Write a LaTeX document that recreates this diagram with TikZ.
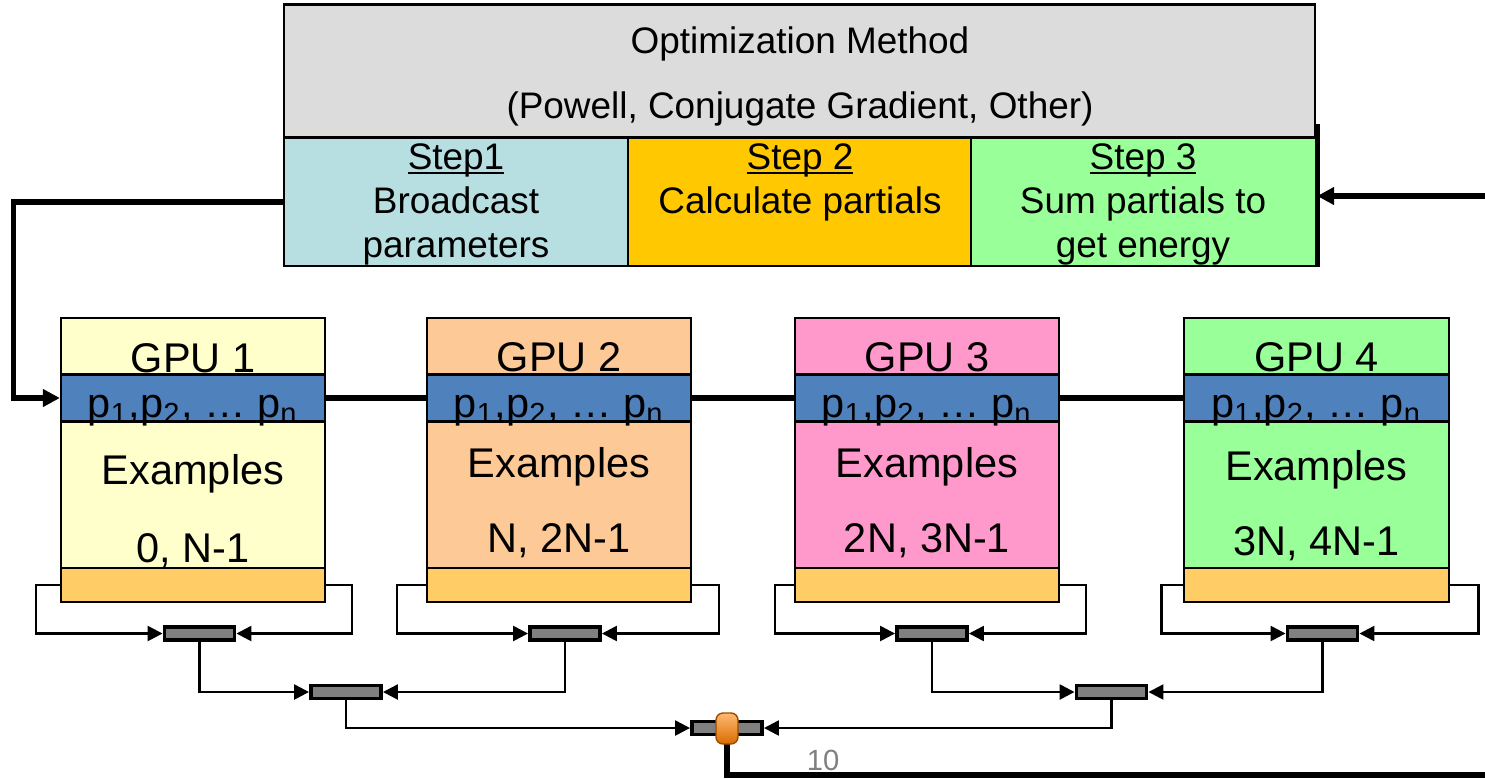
\documentclass[tikz,border=0pt]{standalone}
\usepackage{fontspec}
\setmainfont{Liberation Sans}
\usetikzlibrary{arrows.meta}

\definecolor{optgray}{HTML}{DCDCDC}
\definecolor{stepcyan}{HTML}{B7DEE0}
\definecolor{stepgold}{HTML}{FFC800}
\definecolor{stepgreen}{HTML}{99FF99}
\definecolor{gpuyellow}{HTML}{FFFFCC}
\definecolor{gpupeach}{HTML}{FDC997}
\definecolor{gpupink}{HTML}{FF99CC}
\definecolor{gpugreen}{HTML}{99FF99}
\definecolor{pblue}{HTML}{4F81BD}
\definecolor{sumorange}{HTML}{FFCC66}
\definecolor{bargray}{HTML}{808080}

\newcommand{\ulstep}[1]{\setbox0\hbox{#1}\rlap{\rule[-1.2pt]{\wd0}{0.6pt}}\box0}

\tikzset{
  box/.style={draw=black, line width=0.6pt, inner sep=0pt},
  gpubox/.style={box, minimum width=2.64cm, minimum height=2.84cm},
  pband/.style={box, fill=pblue, minimum width=2.64cm, minimum height=0.47cm,
    text height=0.43cm, text depth=0.04cm, font=\fontsize{11.8}{14}\selectfont},
  sband/.style={box, fill=sumorange, minimum width=2.64cm, minimum height=0.34cm},
  gtext/.style={font=\fontsize{11.8}{14}\selectfont, inner sep=0pt, anchor=base},
  stext/.style={font=\fontsize{10.5}{12.4}\selectfont, align=center, inner sep=0pt, anchor=base},
  addbar/.style={draw=black, fill=bargray, line width=1.1pt, minimum width=0.70cm,
    minimum height=0.13cm, inner sep=0pt},
  bus/.style={line width=1.5pt},
  busarrow/.style={bus, -{Triangle[length=0.17cm, width=0.17cm]}},
  wire/.style={line width=0.7pt, -{Triangle[length=0.15cm, width=0.15cm]}},
}

\begin{document}
\begin{tikzpicture}[x=0.01cm, y=-0.01cm]
  \useasboundingbox (0,0) rectangle (1485,778);

  \node[box, fill=optgray, minimum width=10.31cm, minimum height=1.33cm] (opt) at (799.5,71) {};
  \node[stext] (optname) at (800,53) {Optimization Method};
  \node[stext] (optlist) at (800,118) {(Powell, Conjugate Gradient, Other)};

  \node[box, fill=stepcyan, minimum width=3.44cm, minimum height=1.28cm] (s1) at (456,202) {};
  \node[box, fill=stepgold, minimum width=3.43cm, minimum height=1.28cm] (s2) at (799.5,202) {};
  \node[box, fill=stepgreen, minimum width=3.45cm, minimum height=1.28cm] (s3) at (1143.5,202) {};
  \draw[bus] (s3.south east) -- ++(0,-143);
  \node[stext] (s1text) at (456,257) {\ulstep{Step1}\\Broadcast\\parameters};
  \node[stext] (s2text) at (800,213) {\ulstep{Step 2}\\Calculate partials};
  \node[stext] (s3text) at (1143,257) {\ulstep{Step 3}\\Sum partials to\\get energy};

  \node[gpubox, fill=gpuyellow] (gpu1) at (193,460) {};
  \node[gpubox, fill=gpupeach] (gpu2) at (559,460) {};
  \node[gpubox, fill=gpupink] (gpu3) at (927,460) {};
  \node[gpubox, fill=gpugreen] (gpu4) at (1316.5,460) {};

  \node[pband] (p1) at (193,398) {p\textsubscript{1},p\textsubscript{2}, \dots\ p\textsubscript{n}};
  \node[pband] (p2) at (559,398) {p\textsubscript{1},p\textsubscript{2}, \dots\ p\textsubscript{n}};
  \node[pband] (p3) at (927,398) {p\textsubscript{1},p\textsubscript{2}, \dots\ p\textsubscript{n}};
  \node[pband] (p4) at (1316.5,398) {p\textsubscript{1},p\textsubscript{2}, \dots\ p\textsubscript{n}};

  \node[sband] (r1) at (193,585) {};
  \node[sband] (r2) at (559,585) {};
  \node[sband] (r3) at (927,585) {};
  \node[sband] (r4) at (1316.5,585) {};

  \node[gtext] (g1name) at (193,372) {GPU 1};
  \node[gtext] (g1ex) at (193,484) {Examples};
  \node[gtext] (g1rng) at (193,562) {0, N-1};
  \node[gtext] (g2name) at (559,371) {GPU 2};
  \node[gtext] (g2ex) at (559,477) {Examples};
  \node[gtext] (g2rng) at (559,552) {N, 2N-1};
  \node[gtext] (g3name) at (927,371) {GPU 3};
  \node[gtext] (g3ex) at (927,477) {Examples};
  \node[gtext] (g3rng) at (927,552) {2N, 3N-1};
  \node[gtext] (g4name) at (1316.5,371) {GPU 4};
  \node[gtext] (g4ex) at (1316.5,480) {Examples};
  \node[gtext] (g4rng) at (1316.5,555) {3N, 4N-1};

  \draw[bus] (p1.east) -- (p2.west);
  \draw[bus] (p2.east) -- (p3.west);
  \draw[bus] (p3.east) -- (p4.west);
  \draw[busarrow] (s1.west) -- ++(-269,0) |- (p1.west);
  \coordinate (inlet) at (1485,196);
  \draw[busarrow] (inlet) -- (inlet -| s3.east);

  \node[addbar] (b1) at (199.5,633.5) {};
  \node[addbar] (b2) at (565,633.5) {};
  \node[addbar] (b3) at (932,633.5) {};
  \node[addbar] (b4) at (1322.5,633.5) {};
  \node[addbar] (c1) at (346,692) {};
  \node[addbar] (c2) at (1111.5,692) {};
  \node[addbar] (root) at (727,728) {};

  \draw[wire] (r1.west) -- ++(-24,0) |- (b1.west);
  \draw[wire] (r1.east) -- ++(26,0) |- (b1.east);
  \draw[wire] (r2.west) -- ++(-29,0) |- (b2.west);
  \draw[wire] (r2.east) -- ++(27,0) |- (b2.east);
  \draw[wire] (r3.west) -- ++(-19,0) |- (b3.west);
  \draw[wire] (r3.east) -- ++(26,0) |- (b3.east);
  \draw[wire] (r4.west) -- ++(-22,0) |- (b4.west);
  \draw[wire] (r4.east) -- ++(29,0) |- (b4.east);
  \draw[wire] (b1.south) |- (c1.west);
  \draw[wire] (b2.south) |- (c1.east);
  \draw[wire] (b3.south) |- (c2.west);
  \draw[wire] (b4.south) |- (c2.east);
  \draw[wire] (c1.south) |- (root.west);
  \draw[wire] (c2.south) |- (root.east);

  \coordinate (outlet) at (1485,775);
  \draw[bus] (root.center) |- (outlet);
  \node[draw=orange!60!black, line width=0.4pt, rounded corners=2pt, top color=orange!55,
    bottom color=orange!85!black, minimum width=0.22cm, minimum height=0.31cm, inner sep=0pt]
    (hub) at (727,728.5) {};

  \node[font=\fontsize{8.3}{10}\selectfont, text=gray, inner sep=0pt] (pagenum) at (823,760) {10};
\end{tikzpicture}
\end{document}
